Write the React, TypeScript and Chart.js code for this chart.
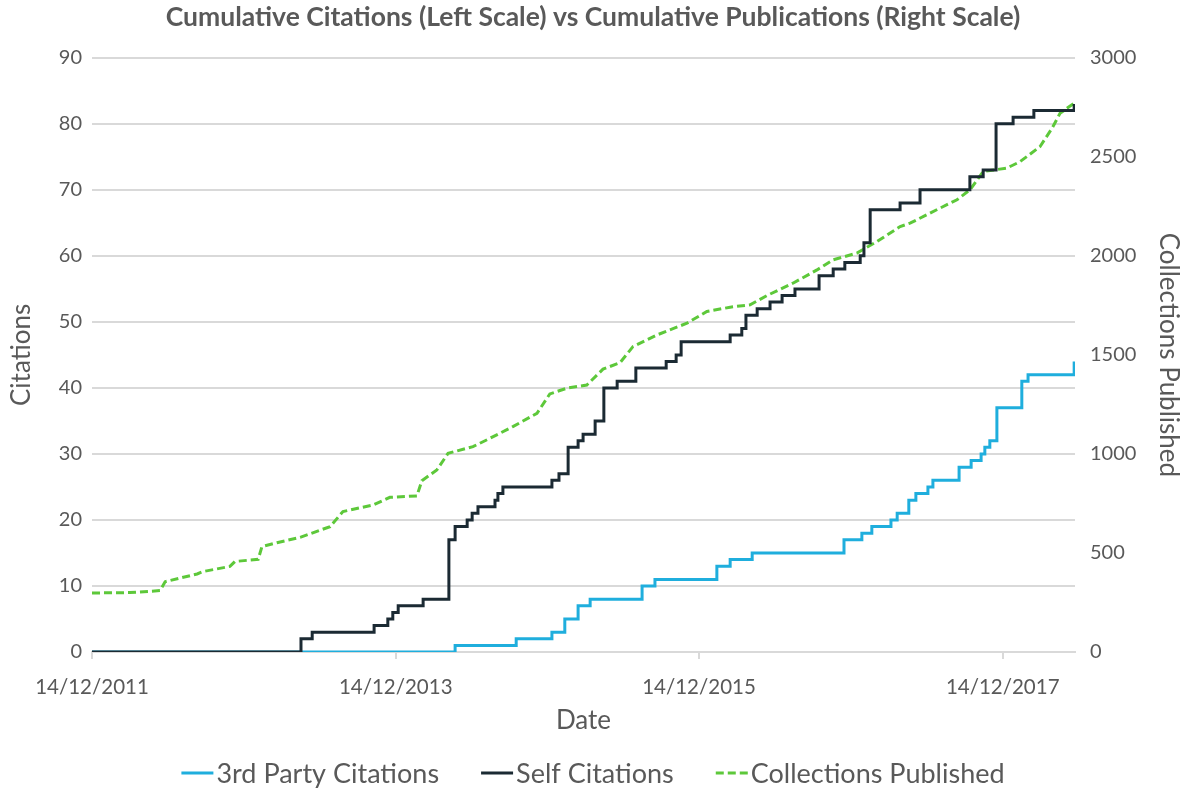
import React, { useEffect, useRef } from "react";
import { Chart, registerables } from "chart.js";

Chart.register(...registerables);

// Dates are stored as days since 14/12/2011
const START_DATE = Date.UTC(2011, 11, 14);
const xTickDays = [0, 731, 1461, 2192];
const xMaxDays = 2366;

const thirdPartyDays = [0, 874, 1021, 1107, 1138, 1170, 1199, 1324, 1355, 1504, 1536, 1589, 1810, 1853, 1877, 1923, 1938, 1966, 1983, 2012, 2024, 2087, 2116, 2140, 2149, 2161, 2178, 2238, 2253, 2364];
const thirdPartyCitations = [0, 1, 2, 3, 5, 7, 8, 10, 11, 13, 14, 15, 17, 18, 19, 20, 21, 23, 24, 25, 26, 28, 29, 30, 31, 32, 37, 41, 42, 44];

const selfDays = [0, 503, 530, 679, 712, 724, 737, 797, 859, 874, 903, 915, 929, 970, 977, 989, 1107, 1124, 1146, 1170, 1182, 1211, 1232, 1264, 1309, 1382, 1406, 1418, 1536, 1564, 1574, 1601, 1632, 1661, 1692, 1750, 1784, 1812, 1849, 1858, 1873, 1945, 1993, 2113, 2145, 2176, 2217, 2267, 2364];
const selfCitations = [0, 2, 3, 4, 5, 6, 7, 8, 17, 19, 20, 21, 22, 23, 24, 25, 26, 27, 31, 32, 33, 35, 40, 41, 43, 44, 45, 47, 48, 49, 51, 52, 53, 54, 55, 57, 58, 59, 60, 62, 67, 68, 70, 72, 73, 80, 81, 82, 83];

const publishedDays = [0, 91, 164, 176, 253, 267, 332, 344, 400, 409, 445, 501, 573, 604, 676, 717, 782, 794, 830, 857, 917, 958, 1013, 1071, 1102, 1143, 1191, 1230, 1271, 1302, 1360, 1432, 1480, 1536, 1584, 1625, 1687, 1745, 1784, 1841, 1889, 1945, 1969, 2041, 2082, 2113, 2145, 2202, 2234, 2282, 2311, 2330, 2364];
const collectionsPublished = [298, 300, 310, 355, 394, 406, 432, 457, 468, 532, 552, 579, 633, 709, 742, 781, 788, 865, 919, 1003, 1037, 1079, 1138, 1205, 1303, 1332, 1348, 1428, 1461, 1542, 1601, 1660, 1719, 1741, 1753, 1800, 1862, 1929, 1980, 2014, 2072, 2148, 2165, 2241, 2283, 2333, 2426, 2443, 2476, 2552, 2645, 2720, 2771];

const leftMax = 90;
const leftStep = 10;
const rightMax = 3000;
const rightStep = 500;

const FONT = "Lato, 'Open Sans', sans-serif";
const TEXT = "#595959";
const GRID = "#D9D9D9";

function formatDay(d: number): string {
  const dt = new Date(START_DATE + d * 86400000);
  const dd = String(dt.getUTCDate()).padStart(2, "0");
  const mm = String(dt.getUTCMonth() + 1).padStart(2, "0");
  return `${dd}/${mm}/${dt.getUTCFullYear()}`;
}

const zip = (xs: number[], ys: number[]) => xs.map((x, i) => ({ x, y: ys[i] }));

const bottomLegend = {
  id: "bottomLegend",
  afterDraw(chart: any) {
    const ctx = chart.ctx;
    ctx.save();
    ctx.font = `27px ${FONT}`;
    const lineW = 32;
    const gapText = 3;
    const gapItem = 42;
    const items = chart.data.datasets.map((ds: any) => ({
      text: ds.label,
      color: ds.borderColor,
      dash: ds.borderDash || [],
      w: lineW + gapText + ctx.measureText(ds.label).width,
    }));
    const total = items.reduce((s: number, it: any) => s + it.w, 0) + gapItem * (items.length - 1);
    let x = (chart.width - total) / 2;
    const y = 773;
    items.forEach((it: any) => {
      ctx.beginPath();
      ctx.setLineDash(it.dash);
      ctx.strokeStyle = it.color;
      ctx.lineWidth = 3;
      ctx.moveTo(x, y);
      ctx.lineTo(x + lineW, y);
      ctx.stroke();
      ctx.setLineDash([]);
      ctx.fillStyle = TEXT;
      ctx.textBaseline = "middle";
      ctx.textAlign = "left";
      ctx.fillText(it.text, x + lineW + gapText, y + 1);
      x += it.w + gapItem;
    });
    ctx.restore();
  },
};

export default function App() {
  const canvasRef = useRef<HTMLCanvasElement | null>(null);

  useEffect(() => {
    document.body.style.margin = "0";
    const canvas = canvasRef.current;
    if (!canvas) return;
    const chart = new Chart(canvas, {
      type: "line",
      data: {
        datasets: [
          {
            label: "3rd Party Citations",
            data: zip(thirdPartyDays, thirdPartyCitations),
            borderColor: "#1FAEDD",
            backgroundColor: "#1FAEDD",
            borderWidth: 3,
            pointRadius: 0,
            stepped: true,
            yAxisID: "y",
            order: 1,
          },
          {
            label: "Self Citations",
            data: zip(selfDays, selfCitations),
            borderColor: "#1B2A33",
            backgroundColor: "#1B2A33",
            borderWidth: 3,
            pointRadius: 0,
            stepped: true,
            yAxisID: "y",
            order: 0,
          },
          {
            label: "Collections Published",
            data: zip(publishedDays, collectionsPublished),
            borderColor: "#5DC83A",
            backgroundColor: "#5DC83A",
            borderWidth: 3,
            borderDash: [8, 4],
            pointRadius: 0,
            tension: 0,
            yAxisID: "y1",
            order: 2,
          },
        ],
      },
      options: {
        animation: false,
        responsive: false,
        maintainAspectRatio: false,
        layout: { padding: { left: 0, right: 0, top: 0, bottom: 52 } },
        plugins: {
          legend: { display: false },
          tooltip: { enabled: false },
          title: {
            display: true,
            text: "Cumulative Citations (Left Scale) vs Cumulative Publications (Right Scale)",
            color: TEXT,
            font: { family: FONT, size: 26.5, weight: "bold" },
            padding: { top: 2, bottom: 24 },
          },
        },
        scales: {
          x: {
            type: "linear",
            min: 0,
            max: xMaxDays,
            afterBuildTicks: (scale: any) => {
              scale.ticks = xTickDays.map((v) => ({ value: v }));
            },
            afterFit: (scale: any) => {
              scale.height = 85;
            },
            ticks: {
              color: TEXT,
              font: { family: FONT, size: 20.5 },
              padding: 16,
              maxRotation: 0,
              callback: (v: any) => formatDay(Number(v)),
            },
            grid: {
              drawOnChartArea: false,
              drawTicks: true,
              tickLength: 7,
              color: GRID,
              lineWidth: 2,
            },
            border: { color: GRID, width: 2 },
            title: {
              display: true,
              text: "Date",
              color: TEXT,
              font: { family: FONT, size: 26 },
              padding: { top: 0, bottom: 1 },
            },
          },
          y: {
            position: "left",
            min: 0,
            max: leftMax,
            afterFit: (scale: any) => {
              scale.width = 92;
            },
            ticks: {
              stepSize: leftStep,
              color: TEXT,
              font: { family: FONT, size: 20 },
              padding: 10,
            },
            grid: { color: GRID, lineWidth: 2, drawTicks: false },
            border: { display: false },
            title: {
              display: true,
              text: "Citations",
              color: TEXT,
              font: { family: FONT, size: 26 },
              padding: { top: 6, bottom: 0 },
            },
          },
          y1: {
            position: "right",
            min: 0,
            max: rightMax,
            afterFit: (scale: any) => {
              scale.width = 111;
            },
            ticks: {
              stepSize: rightStep,
              color: TEXT,
              font: { family: FONT, size: 20 },
              padding: 15,
              callback: (v: any) => String(v),
            },
            grid: { drawOnChartArea: false, drawTicks: false },
            border: { display: false },
            title: {
              display: true,
              text: "Collections Published",
              color: TEXT,
              font: { family: FONT, size: 26 },
              padding: { top: 2, bottom: 0 },
            },
          },
        },
      },
      plugins: [bottomLegend],
    } as any);
    return () => chart.destroy();
  }, []);

  return (
    <div style={{ width: 1186, height: 789 }}>
      <canvas ref={canvasRef} width={1186} height={789} style={{ display: "block" }} />
    </div>
  );
}
